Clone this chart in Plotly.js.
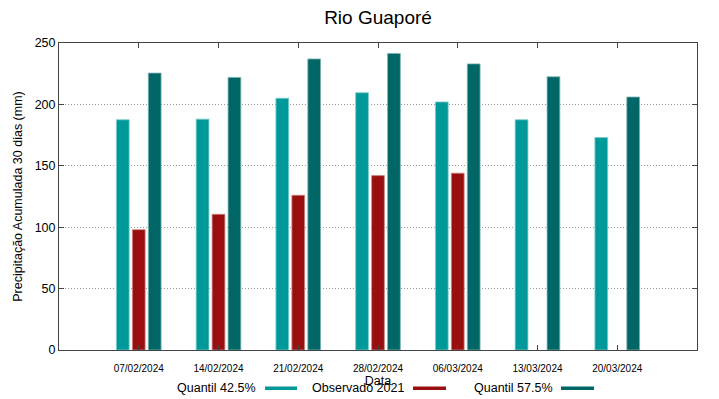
<!DOCTYPE html>
<html>
<head>
<meta charset="utf-8">
<script src="https://cdn.plot.ly/plotly-3.0.1.min.js"></script>
<style>html,body{margin:0;padding:0;background:#fff;}</style>
</head>
<body>
<div id="chart" style="width:719px;height:399px;"></div>
<script>
const categories = ["07/02/2024","14/02/2024","21/02/2024","28/02/2024","06/03/2024","13/03/2024","20/03/2024"];
const quantil425 = [187.5, 188, 205, 209.5, 202, 187.5, 173];
const observado2021 = [98, 110.5, 126, 142, 144, null, null];
const quantil575 = [225.5, 222, 237, 241.5, 233, 222.5, 206];
const seriesNames = ["Quantil 42.5%", "Observado 2021", "Quantil 57.5%"];
const seriesColors = ["#009999", "#990e0e", "#006666"];
const edgeColors = ["#7fcccc", "#cc8686", "#7fb2b2"];
const yTitle = "Precipitação Acumulada 30 dias (mm)";
const xTitle = "Data";
const chartTitle = "Rio Guaporé";

const font = "Liberation Sans, Arial, sans-serif";
const W = 719, H = 399, L = 59, R = 22, T = 43, B = 49;
const pw = W - L - R, ph = H - T - B;
const px = x => (x - L) / pw;
const py = y => (H - B - y) / ph;

const values = [quantil425, observado2021, quantil575];
const data = values.map((v, i) => ({
  type: "bar",
  x: categories,
  y: v,
  name: seriesNames[i],
  marker: {color: seriesColors[i], line: {color: edgeColors[i], width: 0.8}},
  showlegend: false,
  hoverinfo: "x+y+name"
}));

// custom gnuplot-style legend: text then swatch
const legendText = [{x: 258, sw: [265, 297]}, {x: 406, sw: [413, 446]}, {x: 555, sw: [561, 594]}];
const annotations = legendText.map((l, i) => ({
  xref: "paper", yref: "paper", x: px(l.x), y: py(388), xanchor: "right", yanchor: "middle",
  text: seriesNames[i], showarrow: false, font: {family: font, size: 12.5, color: "#000"}
}));
const shapes = legendText.map((l, i) => ({
  type: "rect", xref: "paper", yref: "paper",
  x0: px(l.sw[0]), x1: px(l.sw[1]), y0: py(390), y1: py(386.5),
  fillcolor: seriesColors[i], line: {width: 0}
}));

const layout = {
  width: W, height: H,
  margin: {l: L, r: R, t: T, b: B},
  paper_bgcolor: "#fff", plot_bgcolor: "#fff",
  font: {family: font, color: "#000"},
  title: {text: chartTitle, font: {family: font, size: 19, color: "#000"}, x: 0.5, xref: "paper", y: 1 - 17 / H, yanchor: "middle"},
  barmode: "group",
  bargap: 0.4,
  bargroupgap: 0.2,
  xaxis: {
    type: "category",
    range: [-1, 7],
    showgrid: false,
    showline: true, linecolor: "#444", linewidth: 1, mirror: "ticks",
    ticks: "inside", ticklen: 5, tickcolor: "#444",
    ticklabelstandoff: 9,
    tickfont: {family: font, size: 10, color: "#000"},
    title: {text: xTitle, font: {family: font, size: 12.5, color: "#000"}, standoff: 0},
    automargin: false,
    zeroline: false
  },
  yaxis: {
    range: [0, 250],
    dtick: 50,
    showgrid: true, gridcolor: "#999999", griddash: "1px,2px", gridwidth: 1,
    showline: true, linecolor: "#444", linewidth: 1, mirror: "ticks",
    ticks: "inside", ticklen: 5, tickcolor: "#444",
    tickfont: {family: font, size: 12.5, color: "#000"},
    title: {text: yTitle, font: {family: font, size: 12.5, color: "#000"}, standoff: 9},
    automargin: false,
    zeroline: false
  },
  annotations: annotations,
  shapes: shapes
};

Plotly.newPlot("chart", data, layout, {displayModeBar: false, staticPlot: true});
</script>
</body>
</html>
